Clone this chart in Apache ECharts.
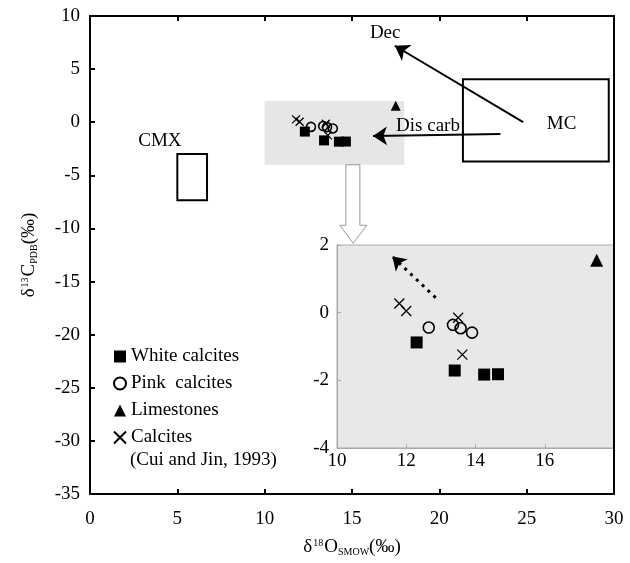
<!DOCTYPE html>
<html>
<head>
<meta charset="utf-8">
<script src="https://cdn.jsdelivr.net/npm/echarts@6/dist/echarts.min.js"></script>
<style>
  html, body { margin: 0; padding: 0; background: #fff; }
  #chart { width: 630px; height: 563px; }
</style>
</head>
<body>
<div id="chart"></div>
<script>
// δ18O (x) / δ13C (y) readings
var whiteX = [12.3, 13.4, 14.25, 14.65];
var whiteY = [-0.88, -1.71, -1.83, -1.82];
var pinkX = [12.65, 13.35, 13.57, 13.9];
var pinkY = [-0.44, -0.36, -0.46, -0.59];
var limeX = [17.5];
var limeY = [1.55];
var calcX = [11.8, 12.0, 13.5, 13.62];
var calcY = [0.27, 0.05, -0.15, -1.24];

var seriesNames = ['White calcites', 'Pink  calcites', 'Limestones', 'Calcites'];

// boxes and arrows, in data units
var greyBox = [[10, 2], [18, -4]];
var cmxBox = [[5.0, -3.0], [6.7, -7.35]];
var mcBox = [[21.35, 4.05], [29.7, -3.7]];
var decArrow = [[24.8, 0.0], [17.45, 7.2]];
var disArrow = [[23.5, -1.1], [16.2, -1.3]];
var trendArrow = [[12.85, 0.44], [11.6, 1.66]];
var hollowArrow = [[14.65, -4], [15.45, -4], [15.45, -9.7], [15.85, -9.7], [15.07, -11.4], [14.3, -9.7], [14.65, -9.7]];

var noteNames = ['CMX', 'Dec', 'Dis carb', 'MC'];
var noteX = [4.0, 16.9, 19.35, 27.0];
var noteY = [-1.8, 8.4, -0.4, -0.2];

var serif = 'Liberation Serif';
var ink = '#000';

function pairs(xs, ys) {
  return xs.map(function (x, i) { return [x, ys[i]]; });
}

var crossPath = 'path://M0,0L10,10M10,0L0,10';

var styles = [
  { symbol: 'rect', itemStyle: { color: ink, opacity: 1 }, size: [10, 12] },
  { symbol: 'circle', itemStyle: { color: 'rgba(0,0,0,0)', borderColor: ink, borderWidth: 1.6, opacity: 1 }, size: [9, 11] },
  { symbol: 'triangle', itemStyle: { color: ink, opacity: 1 }, size: [10, 13] },
  { symbol: crossPath, itemStyle: { color: 'rgba(0,0,0,0)', borderColor: ink, borderWidth: 1.3, opacity: 1 }, size: [8, 10] }
];
var dataSets = [pairs(whiteX, whiteY), pairs(pinkX, pinkY), pairs(limeX, limeY), pairs(calcX, calcY)];

var series = [];

// boxes + text notes on the main grid
series.push({
  type: 'scatter',
  xAxisIndex: 0,
  yAxisIndex: 0,
  z: 1,
  silent: true,
  symbolSize: 0,
  itemStyle: { opacity: 1 },
  data: noteNames.map(function (n, i) { return { name: n, value: [noteX[i], noteY[i]] }; }),
  label: {
    show: true,
    position: 'inside',
    formatter: '{b}',
    fontFamily: serif,
    fontSize: 19,
    color: ink,
    opacity: 1
  },
  markArea: {
    silent: true,
    data: [
      [{ coord: greyBox[0], itemStyle: { color: '#e6e6e6' } }, { coord: greyBox[1] }],
      [{ coord: cmxBox[0], itemStyle: { color: 'rgba(0,0,0,0)', borderColor: ink, borderWidth: 2 } }, { coord: cmxBox[1] }],
      [{ coord: mcBox[0], itemStyle: { color: 'rgba(0,0,0,0)', borderColor: ink, borderWidth: 2 } }, { coord: mcBox[1] }]
    ]
  },
  markLine: {
    silent: true,
    symbol: ['none', 'arrow'],
    symbolSize: 14,
    label: { show: false },
    lineStyle: { color: ink, width: 2, type: 'solid', opacity: 1 },
    data: [
      [{ coord: decArrow[0] }, { coord: decArrow[1] }],
      [{ coord: disArrow[0] }, { coord: disArrow[1] }]
    ]
  }
});

// hollow arrow pointing to the inset
series.push({
  type: 'custom',
  xAxisIndex: 0,
  yAxisIndex: 0,
  z: 2,
  silent: true,
  data: [[0, 0]],
  renderItem: function (params, api) {
    return {
      type: 'polygon',
      shape: { points: hollowArrow.map(function (p) { return api.coord(p); }) },
      style: { fill: '#fff', stroke: '#999', lineWidth: 1 }
    };
  }
});

// points: main grid then inset
for (var k = 0; k < 2; k++) {
  for (var s = 0; s < 4; s++) {
    series.push({
      name: seriesNames[s],
      type: 'scatter',
      xAxisIndex: k === 0 ? 0 : 2,
      yAxisIndex: k === 0 ? 0 : 2,
      z: 5,
      symbol: styles[s].symbol,
      symbolSize: styles[s].size[k],
      itemStyle: styles[s].itemStyle,
      data: dataSets[s]
    });
  }
}

// dotted trend arrow in the inset
series.push({
  type: 'scatter',
  xAxisIndex: 2,
  yAxisIndex: 2,
  z: 5,
  data: [],
  markLine: {
    silent: true,
    symbol: ['none', 'arrow'],
    symbolSize: 13,
    label: { show: false },
    lineStyle: { color: ink, width: 3, type: [3, 5], opacity: 1 },
    data: [[{ coord: trendArrow[0] }, { coord: trendArrow[1] }]]
  }
});

var axisText = { fontFamily: serif, fontSize: 19, color: ink };
var titleRich = {
  a: { fontFamily: serif, fontSize: 19, color: ink, lineHeight: 22, verticalAlign: 'middle' },
  sup: { fontFamily: serif, fontSize: 10, color: ink, lineHeight: 22, verticalAlign: 'top', padding: [2, 1, 0, 1] },
  sub: { fontFamily: serif, fontSize: 10, color: ink, lineHeight: 22, verticalAlign: 'bottom', padding: [0, 0, 1, 0] }
};

var option = {
  backgroundColor: '#fff',
  animation: false,
  grid: [
    { left: 90, top: 16, right: 16, bottom: 69 },
    { left: 337, top: 245, right: 16, bottom: 115, show: true, backgroundColor: '#e8e8e8', borderColor: '#aaa', borderWidth: 1 }
  ],
  legend: {
    orient: 'vertical',
    left: 108,
    top: 342,
    itemWidth: 12,
    itemHeight: 12,
    itemGap: 8,
    data: seriesNames,
    textStyle: { fontFamily: serif, fontSize: 19, color: ink },
    selectedMode: false
  },
  graphic: [{
    type: 'text',
    left: 130,
    top: 451,
    style: { text: '(Cui and Jin, 1993)', font: '19px "Liberation Serif"', fill: ink }
  }],
  xAxis: [
    {
      gridIndex: 0, type: 'value', min: 0, max: 30, interval: 5, z: 10,
      splitLine: { show: false },
      axisLine: { onZero: false, lineStyle: { color: ink, width: 2 } },
      axisTick: { inside: true, length: 5, lineStyle: { color: ink, width: 2 } },
      axisLabel: Object.assign({ margin: 16 }, axisText),
      name: '{a|δ}{sup|18}{a|O}{sub|SMOW}{a|(‰)}',
      nameLocation: 'middle',
      nameGap: 42,
      nameTextStyle: { rich: titleRich }
    },
    {
      gridIndex: 0, type: 'value', position: 'top', min: 0, max: 30, interval: 5, z: 10,
      splitLine: { show: false },
      axisLine: { onZero: false, lineStyle: { color: ink, width: 2 } },
      axisTick: { inside: true, length: 5, lineStyle: { color: ink, width: 2 } },
      axisLabel: { show: false }
    },
    {
      gridIndex: 1, type: 'value', min: 10, max: 18, interval: 2,
      splitLine: { show: false },
      axisLine: { onZero: false, lineStyle: { color: '#aaa', width: 1 } },
      axisTick: { inside: true, length: 4, lineStyle: { color: '#aaa' } },
      axisLabel: Object.assign({ margin: 4, showMaxLabel: false }, axisText)
    }
  ],
  yAxis: [
    {
      gridIndex: 0, type: 'value', min: -35, max: 10, interval: 5, z: 10,
      splitLine: { show: false },
      axisLine: { onZero: false, lineStyle: { color: ink, width: 2 } },
      axisTick: { inside: true, length: 5, lineStyle: { color: ink, width: 2 } },
      axisLabel: Object.assign({ margin: 10 }, axisText),
      name: '{a|δ}{sup|13}{a|C}{sub|PDB}{a|(‰)}',
      nameLocation: 'middle',
      nameGap: 50,
      nameRotate: 90,
      nameTextStyle: { rich: titleRich }
    },
    {
      gridIndex: 0, type: 'value', position: 'right', min: -35, max: 10, interval: 5, z: 10,
      splitLine: { show: false },
      axisLine: { onZero: false, lineStyle: { color: ink, width: 2 } },
      axisTick: { show: false },
      axisLabel: { show: false }
    },
    {
      gridIndex: 1, type: 'value', min: -4, max: 2, interval: 2,
      splitLine: { show: false },
      axisLine: { onZero: false, lineStyle: { color: '#aaa', width: 1 } },
      axisTick: { inside: true, length: 4, lineStyle: { color: '#aaa' } },
      axisLabel: Object.assign({ margin: 8 }, axisText)
    }
  ],
  series: series
};

var chart = echarts.init(document.getElementById('chart'));
chart.setOption(option);
</script>
</body>
</html>
